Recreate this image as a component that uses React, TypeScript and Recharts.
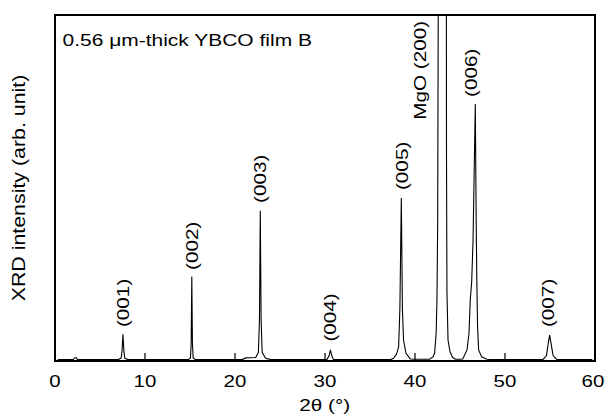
import React from "react";
import {
  ComposedChart, Line, Scatter, XAxis, YAxis, ReferenceArea,
} from "recharts";

// XRD trace, 2θ (deg) vs intensity (arb., 100 = top of frame)
const twoTheta = [
  0.3, 2.0, 2.2, 2.35, 2.5,
  7.0, 7.35, 7.45, 7.55, 7.65, 7.75, 8.1,
  14.8, 15.05, 15.13, 15.2, 15.27, 15.35, 15.6,
  20.8, 21.2, 22.3, 22.6, 22.72, 22.81, 22.9, 23.02, 23.4, 24.0,
  30.2, 30.45, 30.6, 30.75, 30.95,
  37.3, 37.62, 37.95, 38.18, 38.32, 38.48, 38.6, 38.73, 39.0, 39.48, 40.0,
  41.6, 42.0, 42.18, 42.35, 42.44, 42.52, 42.58, 42.62, 43.47, 43.5, 43.55, 43.67, 43.9, 44.2, 44.5, 45.0,
  45.3, 45.78, 46.0, 46.14, 46.3, 46.45, 46.7, 46.8, 46.87, 46.95, 47.07, 47.4, 48.0, 48.5,
  54.2, 54.6, 54.8, 54.96, 55.12, 55.35, 55.8, 59.7,
];
const intensity = [
  0.4, 0.4, 0.9, 1.0, 0.4,
  0.4, 0.8, 3, 7.7, 3, 0.8, 0.4,
  0.4, 0.9, 5, 24.4, 5, 0.9, 0.4,
  0.4, 0.9, 1.0, 2.5, 12, 43.4, 12, 2.5, 0.8, 0.4,
  0.4, 1.5, 3.2, 1.5, 0.4,
  0.4, 0.8, 2, 4.1, 15, 47.1, 15, 6, 2.2, 0.6, 0.5,
  0.5, 1.2, 2.3, 8, 17.6, 40, 100, 150, 150, 60, 20, 6, 2.5, 1, 0.5, 0.5,
  0.6, 3.2, 8, 17.6, 23, 35, 74.3, 40, 23, 10, 3.2, 1.2, 0.5, 0.4,
  0.4, 1.5, 5, 7.5, 5, 1.5, 0.4, 0.4,
];

const peakNames = ["(001)", "(002)", "(003)", "(004)", "(005)", "MgO (200)", "(006)", "(007)"];
const peakLabelX = [7.59, 15.22, 22.81, 30.59, 38.56, 40.52, 46.23, 54.81];
const peakLabelY = [9.8, 26.3, 45.7, 5.6, 49.4, 69.7, 76.3, 9.8];

const xTicks = [0, 10, 20, 30, 40, 50, 60];

const trace = twoTheta.map((x, i) => ({ x, y: intensity[i] }));
const labels = peakNames.map((name, i) => ({ x: peakLabelX[i], y: peakLabelY[i], name }));

const FONT = '"Liberation Sans", Arial, Helvetica, sans-serif';
const SX = 1.22;

function XTick(props: any) {
  const { x, y, payload } = props;
  // keep the last label inside the page edge
  const tx = payload.value === 60 ? x - 2 : x;
  return (
    <g>
      <line x1={x} y1={y} x2={x} y2={y - 8} stroke="#000" strokeWidth={1.2} />
      <text
        transform={`translate(${tx},${y + 26}) scale(${SX},1)`}
        textAnchor="middle"
        fontFamily={FONT}
        fontSize={16.8}
        fill="#000"
      >
        {payload.value}
      </text>
    </g>
  );
}

function PeakLabel(props: any) {
  const { cx, cy, payload } = props;
  return (
    <text
      transform={`translate(${cx + 6.1},${cy}) rotate(-90) scale(${SX},1)`}
      textAnchor="start"
      fontFamily={FONT}
      fontSize={17}
      fill="#000"
    >
      {payload.name}
    </text>
  );
}

export default function App() {
  return (
    <div style={{ position: "absolute", left: 0, top: 0, width: 605, height: 417, background: "#fff" }}>
      <ComposedChart
        width={605}
        height={417}
        data={trace}
        margin={{ top: 15, right: 10, left: 55, bottom: 0 }}
      >
        <XAxis
          type="number"
          dataKey="x"
          domain={[0, 60]}
          ticks={xTicks}
          allowDataOverflow
          axisLine={false}
          tickLine={false}
          tickSize={0}
          tickMargin={0}
          height={56}
          tick={<XTick />}
          interval={0}
        />
        <YAxis type="number" dataKey="y" domain={[0, 100]} allowDataOverflow hide width={0} />
        <Line
          type="linear"
          dataKey="y"
          stroke="#000"
          strokeWidth={1.1}
          dot={false}
          isAnimationActive={false}
        />
        <Scatter data={labels} dataKey="y" shape={<PeakLabel />} isAnimationActive={false} />
        <ReferenceArea x1={0} x2={60} y1={0} y2={100} fill="none" stroke="#000" strokeWidth={2} />
      </ComposedChart>
      <svg
        width={605}
        height={417}
        style={{ position: "absolute", left: 0, top: 0, pointerEvents: "none" }}
      >
        <text
          transform={`translate(62.5,46) scale(${SX},1)`}
          fontFamily={FONT}
          fontSize={17.2}
          fill="#000"
        >
          0.56 μm-thick YBCO film B
        </text>
        <text
          transform={`translate(324.7,411) scale(${SX},1)`}
          textAnchor="middle"
          fontFamily={FONT}
          fontSize={17}
          fill="#000"
        >
          2θ (°)
        </text>
        <text
          transform={`translate(24.5,188) rotate(-90) scale(${SX},1)`}
          textAnchor="middle"
          fontFamily={FONT}
          fontSize={17.5}
          fill="#000"
        >
          XRD intensity (arb. unit)
        </text>
      </svg>
    </div>
  );
}
